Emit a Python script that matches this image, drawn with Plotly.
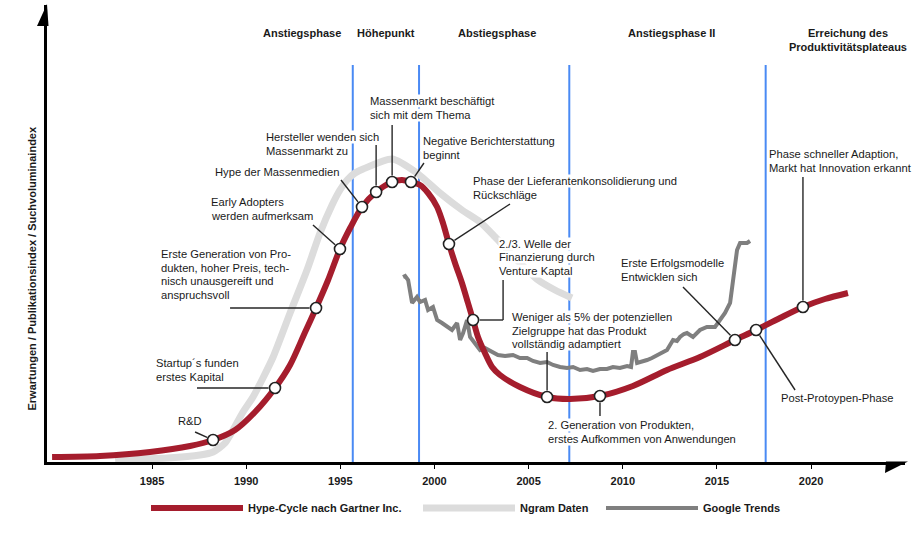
import math
import plotly.graph_objects as go

# ------------------------------------------------------------------ data
series_names = ["Hype-Cycle nach Gartner Inc.", "Ngram Daten", "Google Trends"]

hype_years = [1979.69, 1982.24, 1984.89, 1987.02, 1988.24, 1989.41, 1990.47, 1991.53, 1992.33,
              1993.13, 1993.71, 1994.35, 1994.98, 1995.52, 1996.15, 1996.90, 1997.75, 1998.28,
              1998.75, 1999.23, 1999.66, 2000.14, 2000.45, 2000.77, 2001.09, 2001.46, 2001.78,
              2002.05, 2002.31, 2002.68, 2003.06, 2003.48, 2004.54, 2005.98, 2007.20, 2008.79,
              2010.54, 2012.35, 2014.10, 2015.96, 2017.08, 2018.35, 2019.57, 2020.74, 2021.96]
hype_values = [1.25, 1.5, 2.5, 4, 5.5, 8, 12.5, 18.5, 24.25,
               32.5, 38.5, 45.5, 53.25, 58.5, 63.75, 67.5, 70, 70.5,
               70, 69.25, 67.25, 63.75, 59.75, 54.5, 49.75, 44.75, 39.75,
               35.5, 31.25, 27.25, 23.75, 21.75, 18.75, 16.25, 15.75, 16.5,
               19, 23, 26.25, 30.5, 33, 36, 38.75, 40.75, 42.25]

ngram_years = [1983.04, 1985.80, 1987.55, 1988.24, 1988.88, 1989.30, 1989.83, 1990.36, 1990.89,
               1991.43, 1992.33, 1993.23, 1993.92, 1994.56, 1994.98, 1995.36, 1995.78, 1996.21,
               1997.75, 1999.07, 2000.29, 2001.46, 2002.42, 2003.22, 2004.28, 2005.50, 2006.40,
               2007.30]
ngram_values = [0.5, 1, 1.75, 2.5, 4.75, 8, 12.5, 16.25, 21,
                26.25, 37.25, 48, 57.25, 64.25, 68, 70.5, 72.25, 73.25,
                75.75, 72.25, 67.25, 63, 60, 56.25, 51, 45.5, 43,
                41]

trends_years = [1998.33, 1998.44, 1998.60, 1998.81, 1999.07, 1999.23, 1999.50, 1999.66, 1999.92,
                2000.14, 2000.40, 2000.67, 2000.93, 2001.20, 2001.36, 2001.52, 2001.73, 2001.89,
                2002.15, 2002.42, 2002.68, 2003.06, 2003.37, 2003.75, 2004.17, 2004.54, 2004.92,
                2005.23, 2005.61, 2005.98, 2006.30, 2006.67, 2007.04, 2007.36, 2007.73, 2008.10,
                2008.42, 2008.79, 2009.16, 2009.48, 2009.85, 2010.23, 2010.44, 2010.54, 2010.65,
                2010.76, 2011.02, 2011.29, 2011.55, 2011.82, 2012.08, 2012.35, 2012.67, 2012.88,
                2013.04, 2013.25, 2013.41, 2013.73, 2014.10, 2014.31, 2014.47, 2014.90, 2015.16,
                2015.43, 2015.70, 2015.85, 2015.96, 2016.07, 2016.23, 2016.44, 2016.60, 2016.76]
trends_values = [46.25, 46.5, 45.5, 39.75, 41.25, 40, 40.5, 38, 38.75,
                 35.5, 34.75, 33.75, 33, 34.75, 30.5, 32.25, 35.5, 31.25,
                 29.75, 28, 28.5, 27.5, 26.75, 26.5, 26.75, 26, 26,
                 25.25, 24.75, 25, 24.25, 23.75, 23.5, 23.75, 23, 23.25,
                 22.75, 23.25, 23.25, 23.75, 23.5, 24, 23.75, 27.5, 27.5,
                 24.75, 25, 25.5, 26, 26.75, 27.25, 28, 30.5, 30.25,
                 31.25, 32, 32.25, 31.25, 33, 33.5, 33.75, 33.75, 35.5,
                 37.25, 39.75, 45.5, 50, 53, 54.75, 54.75, 54.75, 55.25]

milestone_years = [1988.24, 1991.53, 1993.71, 1994.98, 1996.15, 1996.90, 1997.75, 1998.75,
                   2000.77, 2002.05, 2005.98, 2008.79, 2015.96, 2017.08, 2019.57]
milestone_values = [5.5, 18.5, 38.5, 53.25, 63.75, 67.5, 70, 70,
                    54.5, 35.5, 16.25, 16.5, 30.5, 33, 38.75]
milestone_labels = [
    ["R&D"],
    ["Startup´s funden", "erstes Kapital"],
    ["Erste Generation von Pro-", "dukten, hoher Preis, tech-", "nisch unausgereift und", "anspruchsvoll"],
    ["Early Adopters", "werden aufmerksam"],
    ["Hype der Massenmedien"],
    ["Hersteller wenden sich", "Massenmarkt zu"],
    ["Massenmarkt beschäftigt", "sich mit dem Thema"],
    ["Negative Berichterstattung", "beginnt"],
    ["Phase der Lieferantenkonsolidierung und", "Rückschläge"],
    ["2./3. Welle der", "Finanzierung durch", "Venture Kaptal"],
    ["Weniger als 5% der potenziellen", "Zielgruppe hat das Produkt", "vollständig adamptiert"],
    ["2. Generation von Produkten,", "erstes Aufkommen von Anwendungen"],
    ["Erste Erfolgsmodelle", "Entwicklen sich"],
    ["Post-Protoypen-Phase"],
    ["Phase schneller Adaption,", "Markt hat Innovation erkannt"],
]

phase_bounds = [1995.66, 1999.18, 2007.16, 2017.59]
phase_labels = [["Anstiegsphase"], ["Höhepunkt"], ["Abstiegsphase"], ["Anstiegsphase II"],
                ["Erreichung des", "Produktivitätsplateaus"]]

tick_years = [1985, 1990, 1995, 2000, 2005, 2010, 2015, 2020]
y_title = "Erwartungen / Publikationsindex / Suchvoluminaindex"

# ------------------------------------------------------------------ layout / style
W, H = 920, 548
ML, MR, MT, MB = 47, 15, 5, 86
XR = [1979.42, 2024.99]
YR = [0, 114.25]
PW, PH = W - ML - MR, H - MT - MB

FONT = "Liberation Sans, Arial, sans-serif"
TXT = "#1a1a1a"
RED, LIGHT, DARK, BLUE = "#a51d2d", "#dcdcdc", "#7f7f7f", "#4a8af4"


def px2x(px):
    return XR[0] + (px - ML) / PW * (XR[1] - XR[0])


def px2y(py):
    return YR[0] + (MT + PH - py) / PH * (YR[1] - YR[0])


# label placement (left edge px, centre of first line px) and leader polylines
label_pos = [(179, 421), (157, 363), (162, 254), (212, 202), (216, 172), (267, 137),
             (371, 101), (424, 141), (474, 181), (500, 243.5), (513, 317), (549, 425),
             (622, 263), (782, 398), (770, 154)]
leaders = [[(-18, -8)], [(-78, 0)], [(-86, 0)], [(-27, -24)], [(-21, -27)], [(0, -47)],
           [(0, -57)], [(13, -19)], [(61, -40)], [(30, -40), (30, 0)], [(0, -45)], [(0, 20)],
           [(-52, -53)], [(39, 60)], [(0, -130)]]
LINE_GAP = 13.5
header_pos = [302, 386, 497, 671.5, 847.5]
legend_starts = [153, 425, 608]   # left end of each legend line, px
legend_ids = ["legend", "legend2", "legend3"]

fig = go.Figure()

fig.add_trace(go.Scatter(x=ngram_years, y=ngram_values, mode="lines", name=series_names[1],
                         line=dict(color=LIGHT, width=7, shape="spline", smoothing=0.6),
                         legend=legend_ids[1], hoverinfo="skip"))
fig.add_trace(go.Scatter(x=trends_years, y=trends_values, mode="lines", name=series_names[2],
                         line=dict(color=DARK, width=4), legend=legend_ids[2], hoverinfo="skip"))
fig.add_trace(go.Scatter(x=hype_years, y=hype_values, mode="lines", name=series_names[0],
                         line=dict(color=RED, width=6, shape="spline", smoothing=0.8),
                         legend=legend_ids[0], hoverinfo="skip"))
fig.add_trace(go.Scatter(x=milestone_years, y=milestone_values, mode="markers", showlegend=False,
                         marker=dict(size=11, color="white", line=dict(color="#222", width=1.6)),
                         hoverinfo="skip"))

shapes = []
# phase boundaries
for b in phase_bounds:
    shapes.append(dict(type="line", xref="x", yref="y", x0=b, x1=b, y0=0, y1=px2y(65),
                       line=dict(color=BLUE, width=2), layer="below"))

# leader lines anchored at the milestones
R_M = 6.5
for mx, my, pts in zip(milestone_years, milestone_values, leaders):
    poly = list(pts) + [(0, 0)]
    ax, ay = poly[-2]
    d = math.hypot(ax, ay)
    poly[-1] = (ax * R_M / d, ay * R_M / d)
    for (x0, y0), (x1, y1) in zip(poly[:-1], poly[1:]):
        shapes.append(dict(type="line", xref="x", yref="y", xsizemode="pixel", ysizemode="pixel",
                           xanchor=mx, yanchor=my, x0=x0, x1=x1, y0=-y0, y1=-y1,
                           line=dict(color="#262626", width=1.4), layer="above"))

# axis arrow heads
shapes.append(dict(type="path", xref="paper", yref="paper", xsizemode="pixel", ysizemode="pixel",
                   xanchor=0, yanchor=1, path="M0,1 L1.5,-21 L-10,-21 Z",
                   fillcolor="black", line=dict(width=0), layer="above"))
shapes.append(dict(type="path", xref="paper", yref="paper", xsizemode="pixel", ysizemode="pixel",
                   xanchor=1, yanchor=0, path="M-19,0.5 L3,0.5 L-20,-11 Z",
                   fillcolor="black", line=dict(width=0), layer="above"))

annotations = []
for lines, (lx, ly) in zip(milestone_labels, label_pos):
    for k, t in enumerate(lines):
        annotations.append(dict(x=px2x(lx - 2), y=px2y(ly + k * LINE_GAP), xref="x", yref="y",
                                text=t, showarrow=False, xanchor="left", yanchor="middle",
                                bgcolor="white", borderpad=0,
                                font=dict(family=FONT, size=11.2, color=TXT)))
for lines, cx in zip(phase_labels, header_pos):
    for k, t in enumerate(lines):
        annotations.append(dict(x=px2x(cx), y=px2y(33 + k * 14), xref="x", yref="y", text=t,
                                showarrow=False, xanchor="center", yanchor="middle",
                                font=dict(family=FONT, size=11, color=TXT, weight="bold")))
annotations.append(dict(x=(31 - ML) / PW, y=(MT + PH - 268.5) / PH, xref="paper", yref="paper",
                        text=y_title, textangle=-90, showarrow=False, xanchor="center",
                        yanchor="middle", font=dict(family=FONT, size=11, color=TXT, weight="bold")))

legend_common = dict(orientation="h", xanchor="left", y=-(508 - MT - PH) / PH, yanchor="middle",
                     itemwidth=92, bgcolor="rgba(0,0,0,0)", itemclick=False,
                     font=dict(family=FONT, size=11, color=TXT, weight="bold"))
legends = {lid: dict(legend_common, x=(sx - 7 - ML) / PW) for lid, sx in zip(legend_ids, legend_starts)}

fig.update_layout(
    width=W, height=H, margin=dict(l=ML, r=MR, t=MT, b=MB),
    paper_bgcolor="white", plot_bgcolor="white",
    shapes=shapes, annotations=annotations,
    showlegend=True, hovermode=False,
    xaxis=dict(range=XR, showgrid=False, zeroline=False, showline=True, linecolor="black",
               linewidth=2.5, ticks="outside", ticklen=4, tickwidth=1.2, tickcolor="black",
               tickvals=tick_years, ticklabelstandoff=3,
               tickfont=dict(family=FONT, size=11, color=TXT, weight="bold")),
    yaxis=dict(range=YR, showgrid=False, zeroline=False, showline=True, linecolor="black",
               linewidth=2.5, showticklabels=False, ticks=""),
    **legends,
)

fig.write_html("out.html", config={"displayModeBar": False},
               post_script="document.body.style.margin='0';")
